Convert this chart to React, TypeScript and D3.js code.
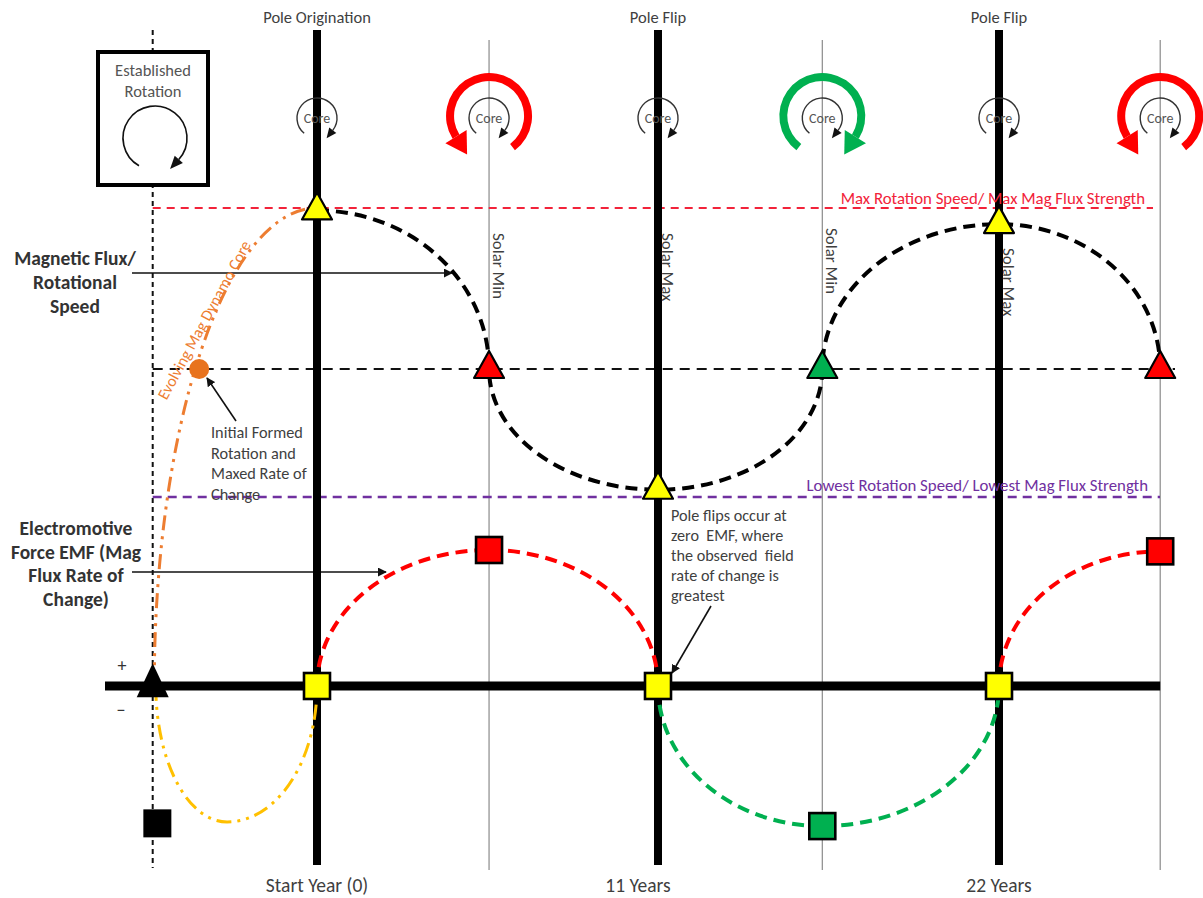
import React from 'react';
import * as d3 from 'd3';

const W = 1203;
const H = 898;

// time axis, in years from pole origination
const poleYears = [0, 11, 22];
const poleLabels = ['Pole Origination', 'Pole Flip', 'Pole Flip'];
const cycleYears = [0, 11, 22];
const cycleLabels = ['Start Year (0)', '11 Years', '22 Years'];
const minMaxYears = [5.55, 16.3, 27.2];
const solarYears = [5.55, 11, 16.3, 22];
const solarLabels = ['Solar Min', 'Solar Max', 'Solar Min', 'Solar Max'];
const originYear = -5.3;

// magnetic flux / rotational speed (1 = max, 0 = mid)
const fluxYears = [0, 5.55, 11, 16.3, 22, 27.2];
const fluxValues = [0.985, 0, -0.75, 0, 0.9, 0];
const fluxMarkerColors = ['#FFFF00', '#FF0000', '#FFFF00', '#00B050', '#FFFF00', '#FF0000'];
const fluxMax = 1;
const fluxMid = 0;
const fluxLow = -0.795;

// electromotive force (0 = zero EMF)
const emfYears = [0, 5.55, 11, 16.3, 22, 27.2];
const emfValues = [0, 1, 0, -1.03, 0, 0.99];
const emfSegColors = ['#FF0000', '#FF0000', '#00B050', '#00B050', '#FF0000'];
const emfMarkerColors = ['#FFFF00', '#FF0000', '#FFFF00', '#00B050', '#FFFF00', '#FF0000'];
const preYears = [-5.2, -2.9, 0];
const preValues = [0, -1, 0];

// evolving dynamo core
const dynamoStartYear = -5.25;
const dynamoEndFlux = 1;
const initialYear = -3.8;
const seedYear = -5.3;
const seedSquareYear = -5.15;
const seedSquareEmf = -1.01;

// core rotation icons
const coreYears = [0, 5.55, 11, 16.3, 22, 27.2];
const spinYears = [5.55, 16.3, 27.2];
const spinDirs = [-1, 1, -1];
const spinColors = ['#FF0000', '#00B050', '#FF0000'];

const font = "Calibri, Carlito, Lato, 'Open Sans', sans-serif";
const ink = '#3f3f3f';
const rad = (deg: number) => (deg * Math.PI) / 180;

type P = [number, number];

function quarter(p0: P, p1: P, firstIsPeak: boolean) {
  const c: P = firstIsPeak ? [p0[0], p1[1]] : [p1[0], p0[1]];
  const rx = Math.abs(p1[0] - p0[0]);
  const ry = Math.abs(p1[1] - p0[1]);
  const z = (p0[0] - c[0]) * (p1[1] - c[1]) - (p0[1] - c[1]) * (p1[0] - c[0]);
  return `A${rx},${ry} 0 0 ${z > 0 ? 1 : 0} ${p1[0]},${p1[1]}`;
}

function arcPath(pts: P[], peaks: boolean[]) {
  let d = `M${pts[0][0]},${pts[0][1]}`;
  for (let i = 1; i < pts.length; i++) d += quarter(pts[i - 1], pts[i], peaks[i - 1]);
  return d;
}

function tri(cx: number, cy: number, w: number, h: number) {
  return `M${cx},${cy - (2 * h) / 3}L${cx + w / 2},${cy + h / 3}L${cx - w / 2},${cy + h / 3}Z`;
}

// arrowhead sitting at angle a (d3 convention) on a circle, pointing along dir (+1 cw, -1 ccw)
function head(cx: number, cy: number, r: number, a: number, dir: number, len: number, wid: number) {
  const t = rad(a);
  const bx = cx + r * Math.sin(t);
  const by = cy - r * Math.cos(t);
  const tx = dir * Math.cos(t);
  const ty = dir * Math.sin(t);
  const nx = Math.sin(t);
  const ny = -Math.cos(t);
  return `M${bx + nx * wid / 2},${by + ny * wid / 2}L${bx + tx * len},${by + ty * len}L${bx - nx * wid / 2},${by - ny * wid / 2}Z`;
}

function thinArc(cx: number, cy: number, r: number, a0: number, a1: number) {
  const p = d3.path();
  p.arc(cx, cy, r, rad(a0) - Math.PI / 2, rad(a1) - Math.PI / 2, false);
  return p.toString();
}

export default function App() {
  const x = d3.scaleLinear().domain([0, 22]).range([317, 999]);
  const yFlux = d3.scaleLinear().domain([-1, 1]).range([530, 208]);
  const yEmf = d3.scaleLinear().domain([-1, 1]).range([822, 550]);

  const top = 30;
  const bottom = 865;
  const coreY = 118;

  const fluxPts: P[] = fluxYears.map((t, i) => [x(t), yFlux(fluxValues[i])]);
  const fluxPath = arcPath(fluxPts, fluxValues.map((v) => v !== fluxMid));

  const emfPts: P[] = emfYears.map((t, i) => [x(t), yEmf(emfValues[i])]);
  const emfSegs = emfSegColors.map((c, i) => ({
    color: c,
    d: `M${emfPts[i][0]},${emfPts[i][1]}` + quarter(emfPts[i], emfPts[i + 1], emfValues[i] !== 0),
  }));

  const prePts: P[] = preYears.map((t, i) => [x(t), yEmf(preValues[i])]);
  const prePath = arcPath(prePts, preValues.map((v) => v !== 0));

  const dynA: P = [x(dynamoStartYear), yEmf(0)];
  const dynB: P = [x(0), yFlux(dynamoEndFlux)];
  const dynPath = `M${dynA[0]},${dynA[1]}` + quarter(dynA, dynB, false);

  const ringArc = d3.arc();
  const arrowLine = (x1: number, y1: number, x2: number, y2: number, key: string) => (
    <line key={key} x1={x1} y1={y1} x2={x2} y2={y2} stroke="#111" strokeWidth={1.6} markerEnd="url(#ah)" />
  );

  const cycleShift = [0, -20, 0];
  const solarTops = [233, 233, 228, 248];

  return (
    <svg width={W} height={H} style={{ position: 'absolute', left: 0, top: 0, background: '#fff' }} fontFamily={font}>
      <defs>
        <marker id="ah" viewBox="0 0 10 10" refX="9" refY="5" markerWidth="9" markerHeight="9" markerUnits="userSpaceOnUse" orient="auto">
          <path d="M0,0L10,5L0,10Z" fill="#111" />
        </marker>
      </defs>
      <rect width={W} height={H} fill="#fff" />

      {/* thin solar min/max verticals */}
      {minMaxYears.map((t, i) => (
        <line key={'mm' + i} x1={x(t)} x2={x(t)} y1={40} y2={870} stroke="#8a8a8a" strokeWidth={1.2} />
      ))}
      <line x1={x(originYear)} x2={x(originYear)} y1={top} y2={868} stroke="#111" strokeWidth={2} strokeDasharray="5 4" />

      {/* reference levels */}
      <line x1={x(originYear)} x2={1153} y1={yFlux(fluxMax)} y2={yFlux(fluxMax)} stroke="#F2233A" strokeWidth={2} strokeDasharray="8 6" />
      <line x1={x(originYear)} x2={1175} y1={yFlux(fluxMid)} y2={yFlux(fluxMid)} stroke="#111" strokeWidth={2.2} strokeDasharray="10 7" />
      <line x1={x(originYear)} x2={1160} y1={yFlux(fluxLow)} y2={yFlux(fluxLow)} stroke="#7030A0" strokeWidth={2.5} strokeDasharray="9 6" />

      {/* annotation arrows */}
      {arrowLine(132, 273, 452, 273, 'a1')}
      {arrowLine(132, 572, 386, 572, 'a2')}
      {arrowLine(236, 421, 207, 378, 'a3')}
      {arrowLine(711, 606, 672, 673, 'a4')}

      {/* pole lines */}
      {poleYears.map((t, i) => (
        <line key={'pl' + i} x1={x(t)} x2={x(t)} y1={top} y2={bottom} stroke="#000" strokeWidth={8} />
      ))}
      <line x1={105} x2={x(27.2)} y1={yEmf(0)} y2={yEmf(0)} stroke="#000" strokeWidth={9} />

      {/* curves */}
      <path d={dynPath} fill="none" stroke="#ED7D31" strokeWidth={3} strokeDasharray="15 6 3 6 3 6" />
      <path d={prePath} fill="none" stroke="#FFC000" strokeWidth={3} strokeDasharray="15 6 3 6 3 6" />
      <path d={fluxPath} fill="none" stroke="#000" strokeWidth={4} strokeDasharray="12 7" />
      {emfSegs.map((s, i) => (
        <path key={'emf' + i} d={s.d} fill="none" stroke={s.color} strokeWidth={4} strokeDasharray="12 7" />
      ))}

      {/* established rotation box */}
      <rect x={98} y={52} width={110} height={133} fill="#fff" stroke="#000" strokeWidth={4} />
      <text x={153} y={76} textAnchor="middle" fontSize={16.5} fill="#555">Established</text>
      <text x={153} y={97} textAnchor="middle" fontSize={16.5} fill="#555">Rotation</text>
      <path d={thinArc(155, 138, 32, -150, 132)} fill="none" stroke="#111" strokeWidth={1.6} />
      <path d={head(155, 138, 32, 132, 1, 13, 11)} fill="#111" />

      {/* core icons */}
      {spinYears.map((t, i) => {
        const a0 = spinDirs[i] < 0 ? -122 : -143;
        const a1 = spinDirs[i] < 0 ? 143 : 122;
        const aHead = spinDirs[i] < 0 ? a0 : a1;
        const d = ringArc({ innerRadius: 35, outerRadius: 43, startAngle: rad(a0), endAngle: rad(a1) } as any) as string;
        return (
          <g key={'spin' + i} transform={`translate(${x(t)},${coreY - 2})`}>
            <path d={d} fill={spinColors[i]} />
            <path d={head(0, 0, 39, aHead, spinDirs[i], 21, 25)} fill={spinColors[i]} />
          </g>
        );
      })}
      {coreYears.map((t, i) => (
        <g key={'core' + i}>
          <path d={thinArc(x(t), coreY, 20, -140, 128)} fill="none" stroke="#333" strokeWidth={1.4} />
          <path d={head(x(t), coreY, 20, 128, 1, 10, 9)} fill="#111" />
          <text x={x(t)} y={coreY + 5} textAnchor="middle" fontSize={14} fill="#555">Core</text>
        </g>
      ))}

      {/* texts */}
      {poleYears.map((t, i) => (
        <text key={'pt' + i} x={x(t)} y={23} textAnchor="middle" fontSize={16.5} fill={ink}>{poleLabels[i]}</text>
      ))}
      {cycleYears.map((t, i) => (
        <text key={'ct' + i} x={x(t) + cycleShift[i]} y={892} textAnchor="middle" fontSize={19.5} fill={ink}>{cycleLabels[i]}</text>
      ))}
      {solarYears.map((t, i) => (
        <text key={'st' + i} transform={`translate(${x(t) + 4},${solarTops[i]}) rotate(90)`} fontSize={17} fill={ink}>{solarLabels[i]}</text>
      ))}
      <text x={1145} y={yFlux(fluxMax) - 4} textAnchor="end" fontSize={16.8} fill="#F2233A">Max Rotation Speed/ Max Mag Flux Strength</text>
      <text x={1148} y={yFlux(fluxLow) - 6} textAnchor="end" fontSize={16.8} fill="#7030A0">Lowest Rotation Speed/ Lowest Mag Flux Strength</text>

      {['Magnetic Flux/', 'Rotational', 'Speed'].map((s, i) => (
        <text key={'mf' + i} x={75} y={265 + i * 24} textAnchor="middle" fontSize={19.5} fontWeight="bold" fill="#333">{s}</text>
      ))}
      {['Electromotive', 'Force EMF (Mag', 'Flux Rate of', 'Change)'].map((s, i) => (
        <text key={'ef' + i} x={76} y={535 + i * 23.5} textAnchor="middle" fontSize={19.5} fontWeight="bold" fill="#333">{s}</text>
      ))}
      <text x={122} y={672} textAnchor="middle" fontSize={18} fill="#333">+</text>
      <text x={121} y={716} textAnchor="middle" fontSize={18} fill="#333">−</text>
      {['Initial Formed', 'Rotation and', 'Maxed Rate of', 'Change'].map((s, i) => (
        <text key={'if' + i} x={211} y={438 + i * 20.5} fontSize={16.3} fill={ink}>{s}</text>
      ))}
      {['Pole flips occur at', 'zero  EMF, where', 'the observed  field', 'rate of change is', 'greatest'].map((s, i) => (
        <text key={'pf' + i} x={671} y={521 + i * 20} fontSize={16.2} fill={ink} style={{ whiteSpace: 'pre' }}>{s}</text>
      ))}
      <text transform="translate(204,320) rotate(-61.5)" textAnchor="middle" dy="0.35em" fontSize={16} fill="#ED7D31">Evolving Mag Dynamo Core</text>

      {/* markers */}
      <circle cx={x(initialYear)} cy={yFlux(0)} r={10} fill="#E8731E" />
      {fluxPts.map((p, i) => (
        <path key={'ft' + i} d={tri(p[0], p[1], 30, 27)} fill={fluxMarkerColors[i]} stroke="#000" strokeWidth={2.2} strokeLinejoin="round" />
      ))}
      {emfPts.map((p, i) => (
        <rect key={'es' + i} x={p[0] - 13} y={p[1] - 13} width={26} height={26} fill={emfMarkerColors[i]} stroke="#000" strokeWidth={2.6} />
      ))}
      <path d={tri(x(seedYear), yEmf(0), 32, 34)} fill="#000" />
      <rect x={x(seedSquareYear) - 14} y={yEmf(seedSquareEmf) - 14} width={28} height={28} fill="#000" />
    </svg>
  );
}
